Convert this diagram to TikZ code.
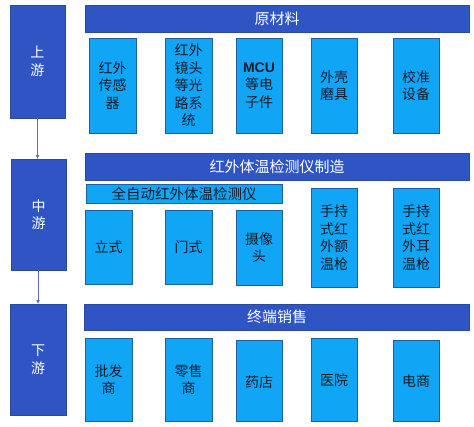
\documentclass[tikz,border=0pt]{standalone}
\usepackage{fontspec}
\setmainfont{Noto Sans CJK SC}
\newfontfamily\latinbold{Liberation Sans}[BoldFont={* Bold}]
\usetikzlibrary{arrows.meta}
\definecolor{dkblue}{HTML}{2F55C5}
\definecolor{dkedge}{HTML}{2A4A9E}
\definecolor{ltblue}{HTML}{10A6F5}
\definecolor{ltedge}{HTML}{1F5FA0}
\definecolor{txtdark}{HTML}{1A1A2A}
\definecolor{arrowc}{HTML}{5C6FB0}
\tikzset{
  x=1pt,y=-1pt,
  stagebox/.style={draw=dkedge,fill=dkblue,text=white,line width=0.8pt,font=\fontsize{14}{17.5}\selectfont,align=center},
  headbar/.style={draw=dkedge,fill=dkblue,text=white,line width=0.8pt,font=\fontsize{15}{18}\selectfont},
  itembox/.style={draw=ltedge,fill=ltblue,text=txtdark,line width=0.8pt,font=\fontsize{14}{17.5}\selectfont,align=center},
  flowarrow/.style={draw=arrowc,line width=0.8pt,-{Latex[length=4pt,width=4pt]}}
}
\begin{document}
\begin{tikzpicture}
\useasboundingbox (0,0) rectangle (474,426);
\fill[white] (0,0) rectangle (474,426);
% stage boxes
\path[stagebox] (10,5) rectangle (65,118);
\node[stagebox,draw=none,fill=none] (up) at (37.5,61.5) {上\\游};
\path[stagebox] (11,159) rectangle (66,270);
\node[stagebox,draw=none,fill=none] (mid) at (38.5,214.5) {中\\游};
\path[stagebox] (10,304) rectangle (66,415);
\node[stagebox,draw=none,fill=none] (down) at (38,359.5) {下\\游};
\coordinate (upb) at (37.5,118);
\coordinate (midt) at (37.5,159);
\coordinate (midb) at (38,270);
\coordinate (downt) at (38,304);
\draw[flowarrow] (upb) -- (midt);
\draw[flowarrow] (midb) -- (downt);
% header bars
\path[headbar] (85,5) rectangle (469,32);
\node[headbar,draw=none,fill=none] (h1) at (277,18.5) {原材料};
\path[headbar] (85,153) rectangle (469,180);
\node[headbar,draw=none,fill=none] (h2) at (277,166.5) {红外体温检测仪制造};
\path[headbar] (84,304) rectangle (469,330);
\node[headbar,draw=none,fill=none] (h3) at (277,317) {终端销售};
% sub bar
\path[itembox] (86,184) rectangle (282,203);
\node[itembox,draw=none,fill=none,font=\fontsize{14.5}{17}\selectfont] (auto) at (184,193.5) {全自动红外体温检测仪};
% row 1
\path[itembox] (89,38) rectangle (136,133);
\node[itembox,draw=none,fill=none] (a1) at (112.5,85.5) {红外\\传感\\器};
\path[itembox] (165,38) rectangle (212,133);
\node[itembox,draw=none,fill=none] (a2) at (188.5,85.5) {红外\\镜头\\等光\\路系\\统};
\path[itembox] (236,38) rectangle (282,133);
\node[itembox,draw=none,fill=none] (a3) at (259,85.5) {{\latinbold\bfseries MCU}\\等电\\子件};
\path[itembox] (311,38) rectangle (357,133);
\node[itembox,draw=none,fill=none] (a4) at (334,85.5) {外壳\\磨具};
\path[itembox] (393,38) rectangle (439,133);
\node[itembox,draw=none,fill=none] (a5) at (416,85.5) {校准\\设备};
% row 2
\path[itembox] (85,210) rectangle (132,284);
\node[itembox,draw=none,fill=none] (b1) at (108.5,247) {立式};
\path[itembox] (165,210) rectangle (212,284);
\node[itembox,draw=none,fill=none] (b2) at (188.5,247) {门式};
\path[itembox] (236,210) rectangle (282,285);
\node[itembox,draw=none,fill=none] (b3) at (259,247.5) {摄像\\头};
\path[itembox] (311,188) rectangle (357,287);
\node[itembox,draw=none,fill=none] (b4) at (334,237.5) {手持\\式红\\外额\\温枪};
\path[itembox] (393,188) rectangle (439,287);
\node[itembox,draw=none,fill=none] (b5) at (416,237.5) {手持\\式红\\外耳\\温枪};
% row 3
\path[itembox] (85,338) rectangle (132,421);
\node[itembox,draw=none,fill=none] (c1) at (108.5,379.5) {批发\\商};
\path[itembox] (165,338) rectangle (212,421);
\node[itembox,draw=none,fill=none] (c2) at (188.5,379.5) {零售\\商};
\path[itembox] (236,340) rectangle (282,421);
\node[itembox,draw=none,fill=none] (c3) at (259,382) {药店};
\path[itembox] (311,338) rectangle (357,421);
\node[itembox,draw=none,fill=none] (c4) at (334,380) {医院};
\path[itembox] (393,340) rectangle (439,421);
\node[itembox,draw=none,fill=none] (c5) at (416,381) {电商};
\end{tikzpicture}
\end{document}
